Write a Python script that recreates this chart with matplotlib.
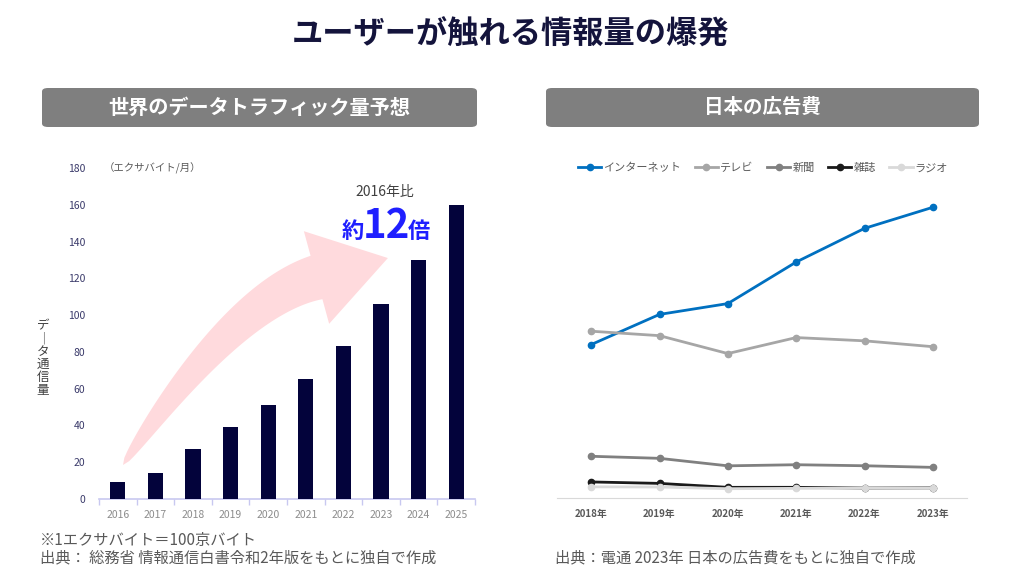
import matplotlib
matplotlib.use('Agg')
import matplotlib.pyplot as plt
from matplotlib.patches import FancyBboxPatch, Polygon
import numpy as np

plt.rcParams['font.family'] = ['Noto Sans CJK JP', 'DejaVu Sans']

# 世界のデータトラフィック量予想 (エクサバイト/月)
traffic_years = ['2016', '2017', '2018', '2019', '2020', '2021', '2022', '2023', '2024', '2025']
traffic = [9, 14, 27, 39, 51, 65, 83, 106, 130, 160]
traffic_ticks = [0, 20, 40, 60, 80, 100, 120, 140, 160, 180]

# 日本の広告費 (億円)
ad_years = ['2018年', '2019年', '2020年', '2021年', '2022年', '2023年']
internet = [17589, 21048, 22290, 27052, 30912, 33330]
tv = [19123, 18612, 16559, 18393, 18019, 17347]
newspaper = [4784, 4547, 3688, 3815, 3697, 3512]
magazine = [1841, 1675, 1223, 1224, 1140, 1163]
radio = [1278, 1260, 1066, 1106, 1129, 1139]
ad_labels = ['インターネット', 'テレビ', '新聞', '雑誌', 'ラジオ']

W, H = 1024, 578
fig = plt.figure(figsize=(W / 100, H / 100), dpi=100)


def fx(x):
    return x / W


def fy(y):
    return 1 - y / H


# タイトルと見出し
fig.text(fx(511), fy(35), 'ユーザーが触れる情報量の爆発', ha='center', va='center',
         fontsize=22.5, fontweight='bold', color='#14143c')

for x0, x1, label, fs in [(42, 477, '世界のデータトラフィック量予想', 14.5), (546, 979, '日本の広告費', 14)]:
    box = FancyBboxPatch((fx(x0), fy(127)), fx(x1 - x0), (127 - 88) / H,
                         boxstyle='round,pad=0,rounding_size=0.006',
                         transform=fig.transFigure, facecolor='#7f7f7f', edgecolor='none')
    fig.add_artist(box)
    fig.text(fx((x0 + x1) / 2), fy(107.5), label, ha='center', va='center',
             fontsize=fs, fontweight='bold', color='white')

# 左: 棒グラフ
ax1 = fig.add_axes([fx(99), fy(499), fx(376), 331 / H])
x = np.arange(len(traffic_years))
ax1.bar(x, traffic, width=0.4, color='#03033b', zorder=3)
ax1.set_xlim(-0.5, len(x) - 0.5)
ax1.set_ylim(0, 180)
ax1.set_yticks(traffic_ticks)
ax1.set_yticklabels([str(t) for t in traffic_ticks])
ax1.set_xticks(x)
ax1.set_xticklabels(traffic_years)
ax1.set_xticks(np.arange(len(x) + 1) - 0.5, minor=True)
ax1.tick_params(axis='y', length=0, labelsize=7.5, labelcolor='#3a3a6a', pad=10)
ax1.tick_params(axis='x', which='major', length=0, labelsize=7.5, labelcolor='#8c8c8c', pad=8)
ax1.tick_params(axis='x', which='minor', length=4, color='#c8c8f0', width=1)
for s in ['top', 'right', 'left']:
    ax1.spines[s].set_visible(False)
ax1.spines['bottom'].set_color('#c8c8f0')
ax1.spines['bottom'].set_linewidth(1.2)

fig.text(fx(104), fy(168), '（エクサバイト/月）', ha='left', va='center', fontsize=7.5, color='#595959')
fig.text(fx(43), fy(358), '\n'.join(['デ', '｜', 'タ', '通', '信', '量']), ha='center', va='center',
         fontsize=9, color='#404040', linespacing=1.0)

# 増加を示す矢印
p0 = np.array([123.0, 465.0])
c = np.array([234.0, 300.0])
p1 = np.array([316.5, 277.5])
t = np.linspace(0, 1, 60)[:, None]
pts = (1 - t) ** 2 * p0 + 2 * (1 - t) * t * c + t ** 2 * p1
der = 2 * (1 - t) * (c - p0) + 2 * t * (p1 - c)
tan = der / np.linalg.norm(der, axis=1)[:, None]
nrm = np.column_stack([tan[:, 1], -tan[:, 0]])
half = 22.5 * t ** 0.5
left = pts + nrm * half
right = pts - nrm * half
tip = p1 + tan[-1] * 74
hw = 48
head = [p1 + nrm[-1] * hw, tip, p1 - nrm[-1] * hw]
outline = np.vstack([left, head, right[::-1]])
arrow = Polygon(np.column_stack([outline[:, 0] / W, 1 - outline[:, 1] / H]),
                closed=True, transform=fig.transFigure, facecolor='#ffdadd',
                edgecolor='none', zorder=0.5)
fig.add_artist(arrow)

fig.text(fx(385), fy(192), '2016年比', ha='center', va='center', fontsize=10, color='#404040')
fig.text(fx(364), fy(238), '約', ha='right', va='baseline', fontsize=16,
         fontweight='bold', color='#1f1fff')
fig.text(fx(386), fy(238), '12', ha='center', va='baseline', fontsize=29,
         fontweight='bold', color='#1f1fff')
fig.text(fx(408), fy(238), '倍', ha='left', va='baseline', fontsize=16,
         fontweight='bold', color='#1f1fff')

# 右: 折れ線グラフ
ax2 = fig.add_axes([fx(557), fy(498), fx(410), (498 - 184) / H])
xr = np.arange(len(ad_years))
series = [internet, tv, newspaper, magazine, radio]
colors = ['#0070c0', '#a6a6a6', '#808080', '#1a1a1a', '#d9d9d9']
for vals, col, lab in zip(series, colors, ad_labels):
    ax2.plot(xr, vals, color=col, linewidth=2, marker='o', markersize=4.5, label=lab)
ax2.set_xlim(-0.5, len(xr) - 0.5)
ax2.set_ylim(0, 36000)
ax2.set_xticks(xr)
ax2.set_xticklabels(ad_years, fontweight='bold')
ax2.set_yticks([])
ax2.tick_params(axis='x', length=0, labelsize=7, labelcolor='#595959', pad=8)
for s in ['top', 'right', 'left']:
    ax2.spines[s].set_visible(False)
ax2.spines['bottom'].set_color('#d9d9d9')
ax2.legend(loc='center', bbox_to_anchor=(fx(763), fy(168)), bbox_transform=fig.transFigure,
           ncol=5, frameon=False, fontsize=8, labelcolor='#595959', handlelength=2.1,
           handletextpad=0.2, columnspacing=1.2)

# 出典
fig.text(fx(40), fy(540), '※1エクサバイト＝100京バイト', ha='left', va='center', fontsize=11, color='#595959')
fig.text(fx(40), fy(558), '出典： 総務省 情報通信白書令和2年版をもとに独自で作成', ha='left', va='center',
         fontsize=11, color='#595959')
fig.text(fx(555), fy(558), '出典：電通 2023年 日本の広告費をもとに独自で作成', ha='left', va='center',
         fontsize=11, color='#595959')

fig.savefig('out.png', dpi=100, facecolor='white')
